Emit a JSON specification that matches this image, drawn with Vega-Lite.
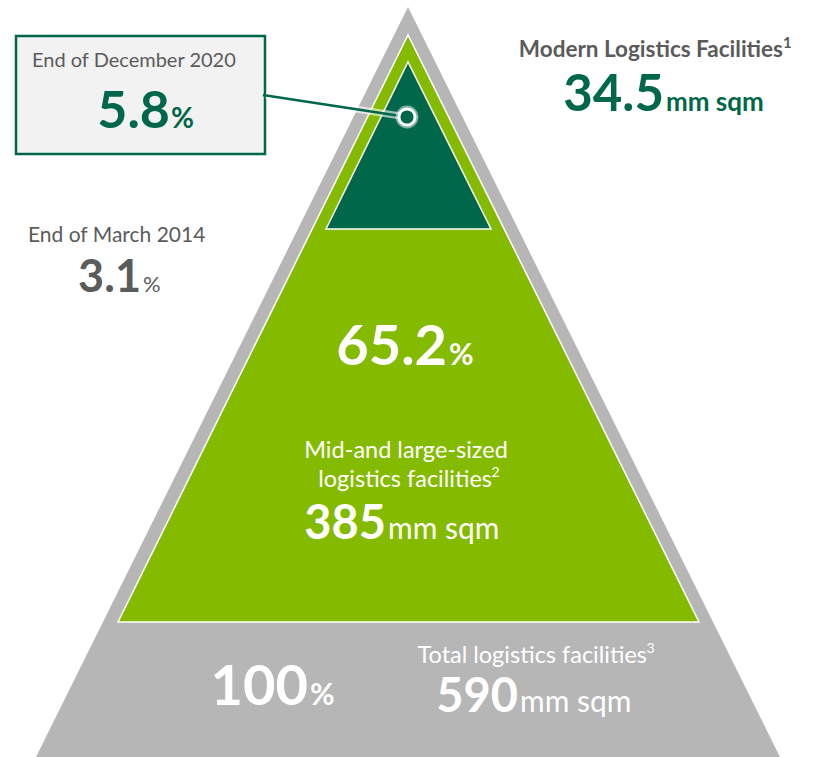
{
  "$schema": "https://vega.github.io/schema/vega-lite/v6.json",
  "width": 817,
  "height": 757,
  "autosize": {"type": "fit", "contains": "padding"},
  "padding": 0,
  "background": "white",
  "config": {"view": {"stroke": null}, "text": {"font": "Lato"}},
  "encoding": {
    "x": {"field": "x", "type": "quantitative", "axis": null, "scale": {"domain": [0, 817], "nice": false, "zero": false}},
    "y": {"field": "y", "type": "quantitative", "axis": null, "scale": {"domain": [0, 757], "nice": false, "zero": false, "reverse": true}}
  },
  "layer": [
    {
      "data": {"values": [{"x": 36, "y": 757, "base": 757}, {"x": 408, "y": 7, "base": 757}, {"x": 780, "y": 757, "base": 757}]},
      "mark": {"type": "area", "color": "#b6b6b6", "interpolate": "linear"},
      "encoding": {"y2": {"field": "base"}}
    },
    {
      "data": {"values": [{"x": 118, "y": 622, "base": 622}, {"x": 408, "y": 35, "base": 622}, {"x": 699, "y": 622, "base": 622}]},
      "mark": {"type": "area", "color": "#84bb00", "stroke": "white", "strokeWidth": 1.5, "interpolate": "linear"},
      "encoding": {"y2": {"field": "base"}}
    },
    {
      "data": {"values": [{"x": 326, "y": 229, "base": 229}, {"x": 408, "y": 62, "base": 229}, {"x": 491, "y": 229, "base": 229}]},
      "mark": {"type": "area", "color": "#00674a", "stroke": "white", "strokeWidth": 1.5, "interpolate": "linear"},
      "encoding": {"y2": {"field": "base"}}
    },
    {
      "data": {"values": [{"x": 16, "x2": 265, "y": 36, "y2": 154}]},
      "mark": {"type": "rect", "fill": "#f2f2f2", "stroke": "#00674a", "strokeWidth": 2.5},
      "encoding": {"x2": {"field": "x2"}, "y2": {"field": "y2"}}
    },
    {
      "data": {"values": [{"x": 266, "y": 95}, {"x": 407, "y": 117}]},
      "mark": {"type": "line", "color": "white", "strokeWidth": 7, "opacity": 0.6},
      "encoding": {}
    },
    {
      "data": {"values": [{"x": 263, "y": 95}, {"x": 407, "y": 117}]},
      "mark": {"type": "line", "color": "#00674a", "strokeWidth": 2.5},
      "encoding": {}
    },
    {
      "data": {"values": [{"x": 407, "y": 117}]},
      "mark": {"type": "point", "filled": true, "fill": "white", "size": 520, "opacity": 0.5},
      "encoding": {}
    },
    {
      "data": {"values": [{"x": 407, "y": 117}]},
      "mark": {"type": "point", "filled": true, "fill": "#00674a", "stroke": "white", "strokeWidth": 3, "size": 260, "opacity": 1},
      "encoding": {}
    },
    {
      "data": {"values": [{"label": "End of December 2020", "x": 32, "y": 67}]},
      "mark": {"type": "text", "align": "left", "baseline": "alphabetic", "fontSize": 20, "color": "#5b5b5b"},
      "encoding": {"text": {"field": "label"}}
    },
    {
      "data": {"values": [{"label": "End of March 2014", "x": 28, "y": 242}]},
      "mark": {"type": "text", "align": "left", "baseline": "alphabetic", "fontSize": 21, "color": "#5b5b5b"},
      "encoding": {"text": {"field": "label"}}
    },
    {
      "data": {"values": [{"label": "5.8", "x": 170, "y": 128}]},
      "mark": {"type": "text", "align": "right", "baseline": "alphabetic", "fontSize": 52, "fontWeight": "bold", "color": "#00674a"},
      "encoding": {"text": {"field": "label"}}
    },
    {
      "data": {"values": [{"label": "%", "x": 171, "y": 128}]},
      "mark": {"type": "text", "align": "left", "baseline": "alphabetic", "fontSize": 28, "fontWeight": "bold", "color": "#00674a"},
      "encoding": {"text": {"field": "label"}}
    },
    {
      "data": {"values": [{"label": "Modern Logistics Facilities", "x": 783, "y": 57}]},
      "mark": {"type": "text", "align": "right", "baseline": "alphabetic", "fontSize": 22.5, "fontWeight": "bold", "color": "#5b5b5b"},
      "encoding": {"text": {"field": "label"}}
    },
    {
      "data": {"values": [{"label": "1", "x": 783, "y": 48}]},
      "mark": {"type": "text", "align": "left", "baseline": "alphabetic", "fontSize": 15, "fontWeight": "bold", "color": "#5b5b5b"},
      "encoding": {"text": {"field": "label"}}
    },
    {
      "data": {"values": [{"label": "34.5", "x": 664, "y": 111}]},
      "mark": {"type": "text", "align": "right", "baseline": "alphabetic", "fontSize": 51, "fontWeight": "bold", "color": "#00674a"},
      "encoding": {"text": {"field": "label"}}
    },
    {
      "data": {"values": [{"label": "mm sqm", "x": 666, "y": 111}]},
      "mark": {"type": "text", "align": "left", "baseline": "alphabetic", "fontSize": 26, "fontWeight": "bold", "color": "#00674a"},
      "encoding": {"text": {"field": "label"}}
    },
    {
      "data": {"values": [{"label": "3.1", "x": 141, "y": 292}]},
      "mark": {"type": "text", "align": "right", "baseline": "alphabetic", "fontSize": 45, "fontWeight": "bold", "color": "#5b5b5b"},
      "encoding": {"text": {"field": "label"}}
    },
    {
      "data": {"values": [{"label": "%", "x": 143, "y": 292}]},
      "mark": {"type": "text", "align": "left", "baseline": "alphabetic", "fontSize": 22, "color": "#5b5b5b"},
      "encoding": {"text": {"field": "label"}}
    },
    {
      "data": {"values": [{"label": "65.2", "x": 447, "y": 365}, {"label": "100", "x": 308, "y": 705}]},
      "mark": {"type": "text", "align": "right", "baseline": "alphabetic", "fontSize": 56, "fontWeight": "bold", "color": "white"},
      "encoding": {"text": {"field": "label"}}
    },
    {
      "data": {"values": [{"label": "%", "x": 449, "y": 365}, {"label": "%", "x": 310, "y": 705}]},
      "mark": {"type": "text", "align": "left", "baseline": "alphabetic", "fontSize": 30, "fontWeight": "bold", "color": "white"},
      "encoding": {"text": {"field": "label"}}
    },
    {
      "data": {"values": [{"label": "Mid-and large-sized", "x": 406, "y": 458}]},
      "mark": {"type": "text", "align": "center", "baseline": "alphabetic", "fontSize": 23.5, "color": "white"},
      "encoding": {"text": {"field": "label"}}
    },
    {
      "data": {"values": [{"label": "logis‌tics facili‌ti‌es", "x": 492, "y": 487}, {"label": "Total logis‌tics facili‌ti‌es", "x": 647, "y": 663}]},
      "mark": {"type": "text", "align": "right", "baseline": "alphabetic", "fontSize": 23.5, "color": "white"},
      "encoding": {"text": {"field": "label"}}
    },
    {
      "data": {"values": [{"label": "2", "x": 491.5, "y": 477}, {"label": "3", "x": 646.5, "y": 653}]},
      "mark": {"type": "text", "align": "left", "baseline": "alphabetic", "fontSize": 14, "color": "white"},
      "encoding": {"text": {"field": "label"}}
    },
    {
      "data": {"values": [{"label": "385", "x": 386, "y": 539}, {"label": "590", "x": 518, "y": 712}]},
      "mark": {"type": "text", "align": "right", "baseline": "alphabetic", "fontSize": 47, "fontWeight": "bold", "color": "white"},
      "encoding": {"text": {"field": "label"}}
    },
    {
      "data": {"values": [{"label": "mm sqm", "x": 388, "y": 539}, {"label": "mm sqm", "x": 520, "y": 712}]},
      "mark": {"type": "text", "align": "left", "baseline": "alphabetic", "fontSize": 30, "color": "white"},
      "encoding": {"text": {"field": "label"}}
    }
  ]
}
